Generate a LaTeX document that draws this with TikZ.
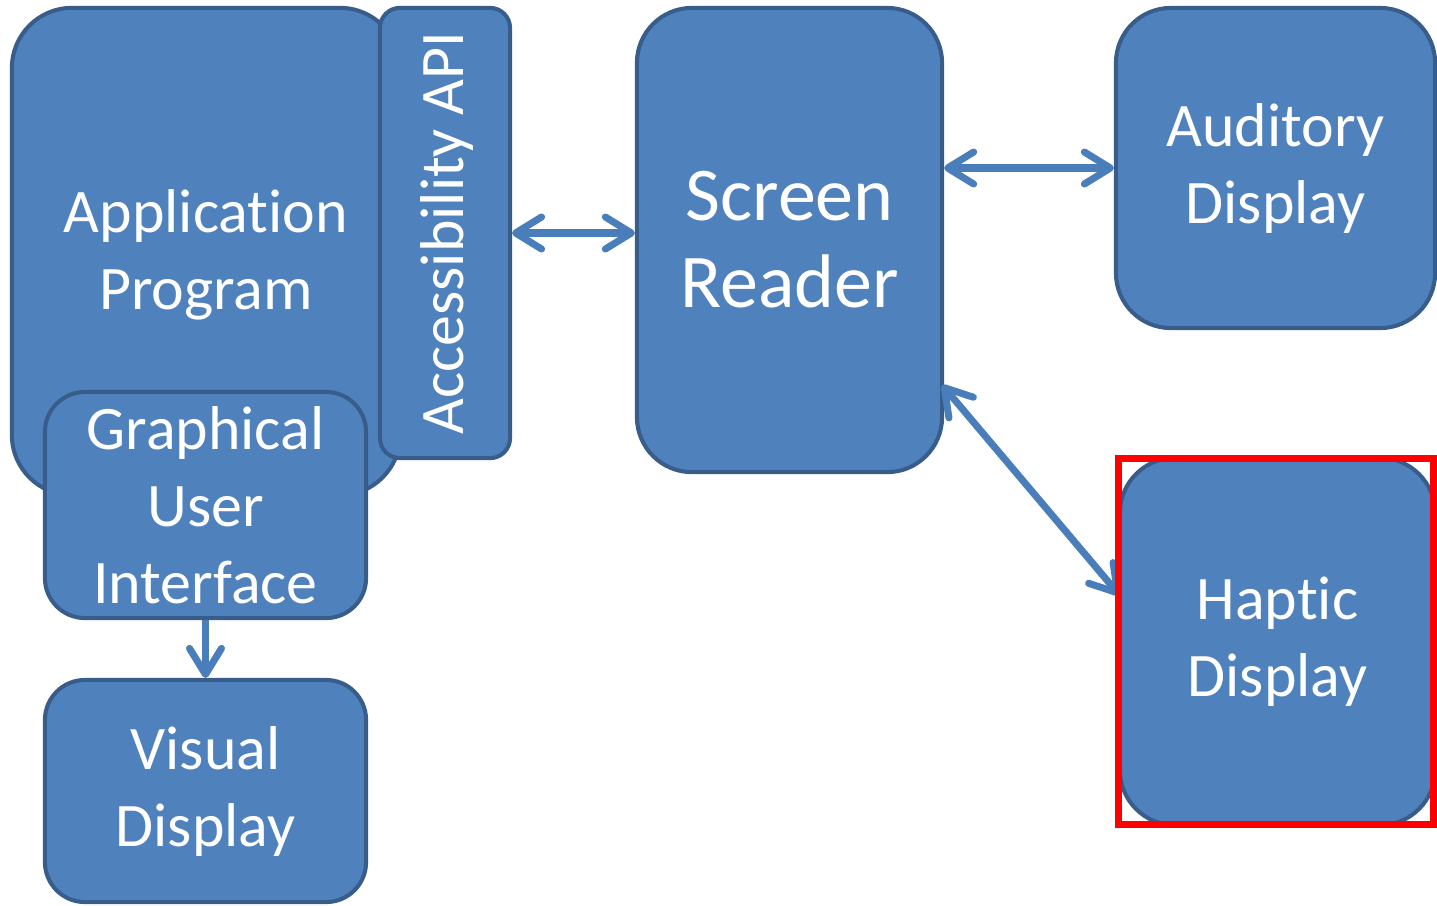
\documentclass[tikz,border=0pt]{standalone}
\usepackage{fontspec}
\setmainfont[Ligatures={NoCommon,NoContextual},RawFeature={-liga;-clig;-calt;-dlig}]{Carlito}
\usetikzlibrary{calc,positioning,arrows.meta}
\definecolor{boxfill}{HTML}{4F81BD}
\definecolor{boxline}{HTML}{385D8A}
\definecolor{linkblue}{HTML}{4A7EBB}

\begin{document}
\begin{tikzpicture}[x=0.01cm,y=-0.01cm,>={Straight Barb[round,length=2.6mm,width=3.2mm]},
  block/.style={draw=boxline,fill=boxfill,line width=1.15pt,inner sep=0pt},
  label/.style={text=white,align=center,inner sep=0pt,font=\fontsize{17.6}{21.9}\selectfont},
  link/.style={linkblue,line width=2pt,<->}]
  \useasboundingbox (0,0) rectangle (1437,905);
  % left column
  \node[block,rounded corners=0.6cm,minimum width=3.88cm,minimum height=4.87cm] (app) at (206,251.5) {};
  \node[label] (apptext) at (206,255) {Application\\Program};
  \node[block,rounded corners=0.2cm,minimum width=1.3cm,minimum height=4.5cm] (api) at (445,233) {};
  \node[label,rotate=90] (apitext) at (447,233) {Accessibility API};
  \node[block,label,rounded corners=0.4cm,minimum width=3.21cm,minimum height=2.26cm] (gui) at (205.5,505) {Graphical\\User\\Interface};
  \node[block,label,rounded corners=0.4cm,minimum width=3.21cm,minimum height=2.22cm] (visual) at (205.5,791) {Visual\\Display};
  % screen reader and displays
  \node[block,label,rounded corners=0.55cm,minimum width=3.05cm,minimum height=4.64cm,
    font=\fontsize{21.6}{24.7}\selectfont] (reader) at (789.5,240) {Screen\\Reader};
  \node[block,label,rounded corners=0.55cm,minimum width=3.19cm,minimum height=3.2cm] (auditory) at (1275.5,168) {Auditory\\Display};
  \node[block,label,rounded corners=0.55cm,minimum width=3.15cm,minimum height=3.67cm] (haptic) at (1277.5,641.5) {Haptic\\Display};
  % connections
  \draw[link] (api.east) -- (api.east -| reader.west);
  \draw[link] (auditory.west -| reader.east) -- (auditory.west);
  \draw[link] ($(reader.east)+(-2,145)$) -- ($(haptic.west)+(2,-46)$);
  \draw[linkblue,line width=2pt,->] (gui.south) -- (visual.north);
  % highlight
  \draw[red,line width=2pt] (1118.5,458.5) rectangle (1433.5,824.5);
\end{tikzpicture}
\end{document}
